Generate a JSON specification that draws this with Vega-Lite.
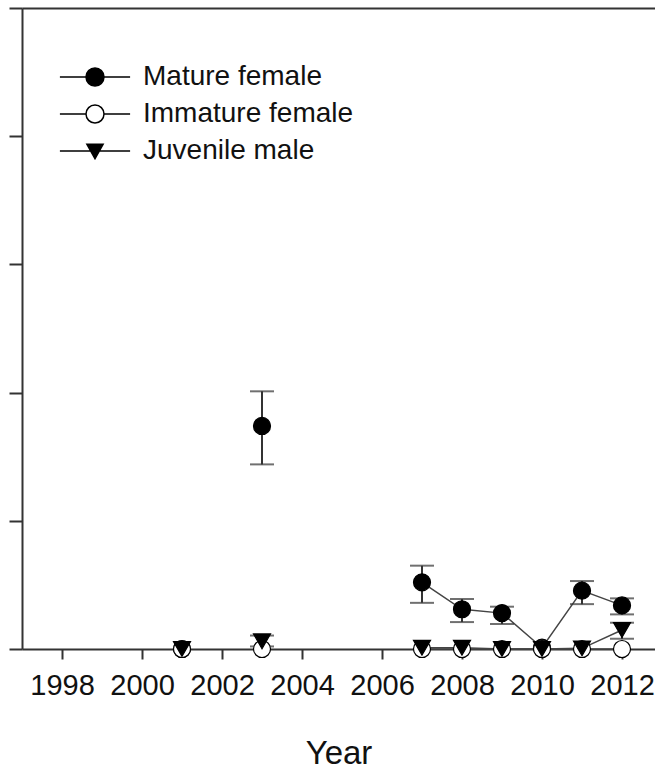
{
  "$schema": "https://vega.github.io/schema/vega-lite/v6.json",
  "autosize": "none",
  "padding": {"left": 22, "top": 8, "right": 0, "bottom": 121},
  "width": 633,
  "height": 641,
  "background": "white",
  "config": {
    "view": {"stroke": null},
    "font": "Liberation Sans",
    "axis": {"grid": false, "domainColor": "#333", "domainWidth": 2, "tickColor": "#333", "tickWidth": 2, "labelFont": "Liberation Sans", "titleFont": "Liberation Sans", "labelColor": "#111", "titleColor": "#111"}
  },
  "data": {"values": [
    {"series": "Mature female", "year": 2001, "value": 0.0, "lo": null, "hi": null, "period": "a"},
    {"series": "Mature female", "year": 2003, "value": 1.74, "lo": 1.44, "hi": 2.01, "period": "b"},
    {"series": "Mature female", "year": 2007, "value": 0.52, "lo": 0.36, "hi": 0.65, "period": "c"},
    {"series": "Mature female", "year": 2008, "value": 0.31, "lo": 0.21, "hi": 0.39, "period": "c"},
    {"series": "Mature female", "year": 2009, "value": 0.28, "lo": 0.195, "hi": 0.33, "period": "c"},
    {"series": "Mature female", "year": 2010, "value": 0.01, "lo": null, "hi": null, "period": "c"},
    {"series": "Mature female", "year": 2011, "value": 0.455, "lo": 0.35, "hi": 0.53, "period": "c"},
    {"series": "Mature female", "year": 2012, "value": 0.34, "lo": 0.27, "hi": 0.395, "period": "c"},
    {"series": "Immature female", "year": 2001, "value": 0.0, "lo": null, "hi": null, "period": "a"},
    {"series": "Immature female", "year": 2003, "value": 0.0, "lo": null, "hi": null, "period": "b"},
    {"series": "Immature female", "year": 2007, "value": 0.0, "lo": null, "hi": null, "period": "c"},
    {"series": "Immature female", "year": 2008, "value": 0.0, "lo": null, "hi": null, "period": "c"},
    {"series": "Immature female", "year": 2009, "value": 0.0, "lo": null, "hi": null, "period": "c"},
    {"series": "Immature female", "year": 2010, "value": 0.0, "lo": null, "hi": null, "period": "c"},
    {"series": "Immature female", "year": 2011, "value": 0.0, "lo": null, "hi": null, "period": "c"},
    {"series": "Immature female", "year": 2012, "value": 0.0, "lo": null, "hi": null, "period": "c"},
    {"series": "Juvenile male", "year": 2001, "value": 0.0, "lo": null, "hi": null, "period": "a"},
    {"series": "Juvenile male", "year": 2003, "value": 0.06, "lo": 0.02, "hi": 0.105, "period": "b"},
    {"series": "Juvenile male", "year": 2007, "value": 0.01, "lo": null, "hi": null, "period": "c"},
    {"series": "Juvenile male", "year": 2008, "value": 0.01, "lo": null, "hi": null, "period": "c"},
    {"series": "Juvenile male", "year": 2009, "value": 0.0, "lo": null, "hi": null, "period": "c"},
    {"series": "Juvenile male", "year": 2010, "value": 0.0, "lo": null, "hi": null, "period": "c"},
    {"series": "Juvenile male", "year": 2011, "value": 0.005, "lo": null, "hi": null, "period": "c"},
    {"series": "Juvenile male", "year": 2012, "value": 0.148, "lo": 0.08, "hi": 0.205, "period": "c"}
  ]},
  "resolve": {"axis": {"x": "independent"}},
  "layer": [
    {
      "mark": {"type": "line", "color": "#444", "strokeWidth": 1.5},
      "encoding": {
        "x": {"field": "year", "type": "quantitative",
          "scale": {"domain": [1997, 2012.825], "nice": false, "zero": false},
          "axis": {"orient": "bottom", "title": "Year", "values": [1998, 2000, 2002, 2004, 2006, 2008, 2010, 2012], "format": "d", "tickSize": 10, "labelFontSize": 29, "labelPadding": 12, "labelFlush": false, "labelOverlap": false, "titleFontSize": 33, "titleFontWeight": "normal", "titlePadding": 37}},
        "y": {"field": "value", "type": "quantitative",
          "scale": {"domain": [0, 5], "nice": false},
          "axis": {"title": null, "labels": false, "values": [0, 1, 2, 3, 4, 5], "tickSize": 13}},
        "detail": [{"field": "series"}, {"field": "period"}]
      }
    },
    {
      "mark": {"type": "rule", "color": "#333", "strokeWidth": 2},
      "encoding": {
        "x": {"field": "year", "type": "quantitative", "axis": {"orient": "top", "title": null, "labels": false, "ticks": false, "domain": true}},
        "y": {"field": "lo", "type": "quantitative"}, "y2": {"field": "hi"}}
    },
    {
      "mark": {"type": "tick", "orient": "horizontal", "color": "#333", "size": 24, "thickness": 2},
      "encoding": {
        "x": {"field": "year", "type": "quantitative", "axis": null},
        "y": {"field": "lo", "type": "quantitative"}}
    },
    {
      "mark": {"type": "tick", "orient": "horizontal", "color": "#333", "size": 24, "thickness": 2},
      "encoding": {
        "x": {"field": "year", "type": "quantitative", "axis": null},
        "y": {"field": "hi", "type": "quantitative"}}
    },
    {
      "mark": {"type": "point", "filled": true, "strokeWidth": 1.5, "opacity": 0},
      "encoding": {
        "x": {"field": "year", "type": "quantitative", "axis": null},
        "y": {"field": "value", "type": "quantitative"},
        "shape": {"field": "series", "type": "nominal",
          "scale": {"domain": ["Mature female", "Immature female", "Juvenile male"], "range": ["M-3.9,0L-1,0M1,0L3.9,0M-1,0A1,1,0,1,0,1,0A1,1,0,1,0,-1,0Z", "M-3.9,0L-1,0M1,0L3.9,0M-1,0A1,1,0,1,0,1,0A1,1,0,1,0,-1,0Z", "M-3.9,0L3.9,0M-0.9,-0.75L0.9,-0.75L0,0.85Z"]},
          "legend": {"title": null, "orient": "none", "legendX": 59, "legendY": 55, "padding": 0, "symbolSize": 324, "symbolOpacity": 1, "symbolStrokeWidth": 1.5, "labelFont": "Liberation Sans", "labelFontSize": 28, "labelColor": "#111", "labelLimit": 400, "labelOffset": 34, "rowPadding": 9}},
        "fill": {"field": "series", "type": "nominal",
          "scale": {"domain": ["Mature female", "Immature female", "Juvenile male"], "range": ["black", "white", "black"]},
          "legend": {"title": null, "orient": "none", "legendX": 59, "legendY": 55, "padding": 0, "symbolSize": 324, "symbolOpacity": 1, "symbolStrokeWidth": 1.5, "labelFont": "Liberation Sans", "labelFontSize": 28, "labelColor": "#111", "labelLimit": 400, "labelOffset": 34, "rowPadding": 9}},
        "stroke": {"field": "series", "type": "nominal",
          "scale": {"domain": ["Mature female", "Immature female", "Juvenile male"], "range": ["black", "black", "black"]},
          "legend": {"title": null, "orient": "none", "legendX": 59, "legendY": 55, "padding": 0, "symbolSize": 324, "symbolOpacity": 1, "symbolStrokeWidth": 1.5, "labelFont": "Liberation Sans", "labelFontSize": 28, "labelColor": "#111", "labelLimit": 400, "labelOffset": 34, "rowPadding": 9}}
      }
    },
    {
      "mark": {"type": "point", "filled": true, "stroke": "black", "strokeWidth": 1.2, "size": 290, "opacity": 1},
      "encoding": {
        "x": {"field": "year", "type": "quantitative", "axis": null},
        "y": {"field": "value", "type": "quantitative"},
        "shape": {"condition": {"test": "datum.series === 'Juvenile male'", "value": "triangle-down"}, "value": "circle"},
        "fill": {"field": "series", "type": "nominal"}
      }
    }
  ]
}
